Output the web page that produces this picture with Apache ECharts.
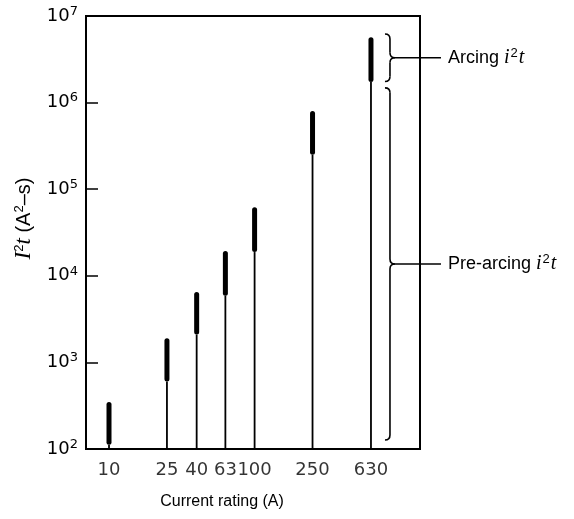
<!DOCTYPE html>
<html>
<head>
<meta charset="utf-8">
<script src="https://cdn.jsdelivr.net/npm/echarts@6/dist/echarts.min.js"></script>
<style>
html, body { margin: 0; background: #fff; }
#main { width: 574px; height: 519px; }
</style>
</head>
<body>
<div id="main"></div>
<script>
// fuse ratings and I2t ranges
var ratings = [10, 25, 40, 63, 100, 250, 630];
var ratingLabels = ['10', '25', '40', '63', '100', '250', '630'];
var preArcing = [112, 600, 2100, 5900, 18800, 250000, 1730000];
var totalI2t = [350, 1900, 6500, 19300, 62000, 800000, 5700000];
var yExponents = [2, 3, 4, 5, 6, 7];

// brace annotations on the 630 A column
var braceNames = ['Arcing ', 'Pre-arcing '];
var braceLow = [1750000, 127];
var braceHigh = [6200000, 1480000];

var yMin = 100, yMax = 10000000;
var xMin = 6.95, xMax = 1368;

var numFont = 'DejaVu Sans';
var textFont = 'Liberation Sans';
var serif = 'Liberation Serif';

var myChart = echarts.init(document.getElementById('main'));

function renderColumn(params, api) {
    var x = api.value(0);
    var base = api.coord([x, yMin]);
    var lo = api.coord([x, api.value(1)]);
    var hi = api.coord([x, api.value(2)]);
    return {
        type: 'group',
        children: [
            {type: 'line', shape: {x1: base[0], y1: base[1], x2: lo[0], y2: lo[1]},
             style: {stroke: '#000', lineWidth: 1.8}},
            {type: 'line', shape: {x1: lo[0], y1: lo[1] - 2.5, x2: hi[0], y2: hi[1] + 2.5},
             style: {stroke: '#000', lineWidth: 5, lineCap: 'round'}}
        ]
    };
}

function renderBrace(params, api) {
    var top = api.coord([api.value(0), api.value(2)]);
    var bot = api.coord([api.value(0), api.value(1)]);
    var x0 = top[0] + 14, yt = top[1], yb = bot[1], ym = (yt + yb) / 2;
    var st = {stroke: '#000', lineWidth: 1.6, fill: null};
    var name = braceNames[params.dataIndex];
    return {
        type: 'group',
        children: [
            {type: 'bezierCurve', shape: {x1: x0, y1: yt, cpx1: x0 + 5, cpy1: yt, x2: x0 + 5, y2: yt + 5}, style: st},
            {type: 'line', shape: {x1: x0 + 5, y1: yt + 5, x2: x0 + 5, y2: ym - 5}, style: st},
            {type: 'bezierCurve', shape: {x1: x0 + 5, y1: ym - 5, cpx1: x0 + 5, cpy1: ym, x2: x0 + 10, y2: ym}, style: st},
            {type: 'bezierCurve', shape: {x1: x0 + 10, y1: ym, cpx1: x0 + 5, cpy1: ym, x2: x0 + 5, y2: ym + 5}, style: st},
            {type: 'line', shape: {x1: x0 + 5, y1: ym + 5, x2: x0 + 5, y2: yb - 5}, style: st},
            {type: 'bezierCurve', shape: {x1: x0 + 5, y1: yb - 5, cpx1: x0 + 5, cpy1: yb, x2: x0, y2: yb}, style: st},
            {type: 'line', shape: {x1: x0 + 10, y1: ym, x2: x0 + 56, y2: ym}, style: st},
            {type: 'text', x: x0 + 63, y: ym,
             style: {
                 text: '{n|' + name + '}{i|i}{s|2}{i|t}',
                 align: 'left', verticalAlign: 'middle', fill: '#000',
                 rich: {
                     n: {fontFamily: textFont, fontSize: 18, fill: '#000'},
                     i: {fontFamily: serif, fontStyle: 'italic', fontSize: 20, fill: '#000'},
                     s: {fontFamily: textFont, fontSize: 13, fill: '#000', padding: [0, 1, 9, 1]}
                 }
             }}
        ]
    };
}

var option = {
    animation: false,
    backgroundColor: '#fff',
    grid: {
        left: 86, right: 154, top: 16, bottom: 70,
        show: true, borderColor: '#000', borderWidth: 2
    },
    xAxis: {
        type: 'log',
        min: xMin,
        max: xMax,
        axisLine: {show: false},
        axisTick: {show: false},
        axisLabel: {show: false},
        splitLine: {show: false},
        name: 'Current rating (A)',
        nameLocation: 'middle',
        nameGap: 45,
        nameTextStyle: {fontFamily: textFont, fontSize: 16, color: '#000', padding: [0, 62, 0, 0]}
    },
    yAxis: {
        type: 'log',
        logBase: 10,
        min: yMin,
        max: yMax,
        splitNumber: 5,
        axisLine: {show: false},
        axisTick: {show: true, inside: true, length: 12, lineStyle: {color: '#000', width: 1.5}},
        splitLine: {show: false},
        axisLabel: {
            margin: 8,
            formatter: function (v) {
                var e = Math.round(Math.log10(v));
                return yExponents.indexOf(e) >= 0 ? '{b|10}{s|' + e + '}' : '';
            },
            rich: {
                b: {fontFamily: numFont, fontSize: 18, color: '#000'},
                s: {fontFamily: numFont, fontSize: 13, color: '#000', padding: [0, 0, 9, 0]}
            }
        },
        name: '{i|I}{s|2}{i|t}{n| (A}{s|2}{n|\u2013s)}',
        nameLocation: 'middle',
        nameRotate: 90,
        nameGap: 50,
        nameTextStyle: {
            padding: [0, 0, 0, 28],
            rich: {
                i: {fontFamily: serif, fontStyle: 'italic', fontSize: 23, color: '#000'},
                n: {fontFamily: textFont, fontSize: 20, color: '#000'},
                s: {fontFamily: textFont, fontSize: 13, color: '#000', padding: [0, 0, 10, 0]}
            }
        }
    },
    series: [
        {
            name: 'I2t',
            type: 'custom',
            renderItem: renderColumn,
            silent: true,
            data: ratings.map(function (r, i) { return [r, preArcing[i], totalI2t[i]]; })
        },
        {
            name: 'ratings',
            type: 'scatter',
            symbolSize: 0,
            silent: true,
            clip: false,
            data: ratings.map(function (r) { return [r, yMin]; }),
            label: {
                show: true,
                position: 'bottom',
                distance: 12,
                fontFamily: numFont,
                fontSize: 18,
                color: '#000',
                formatter: function (p) { return ratingLabels[p.dataIndex]; }
            }
        },
        {
            name: 'braces',
            type: 'custom',
            renderItem: renderBrace,
            silent: true,
            clip: false,
            data: braceNames.map(function (n, i) { return [630, braceLow[i], braceHigh[i]]; })
        }
    ]
};

myChart.setOption(option);
</script>
</body>
</html>
